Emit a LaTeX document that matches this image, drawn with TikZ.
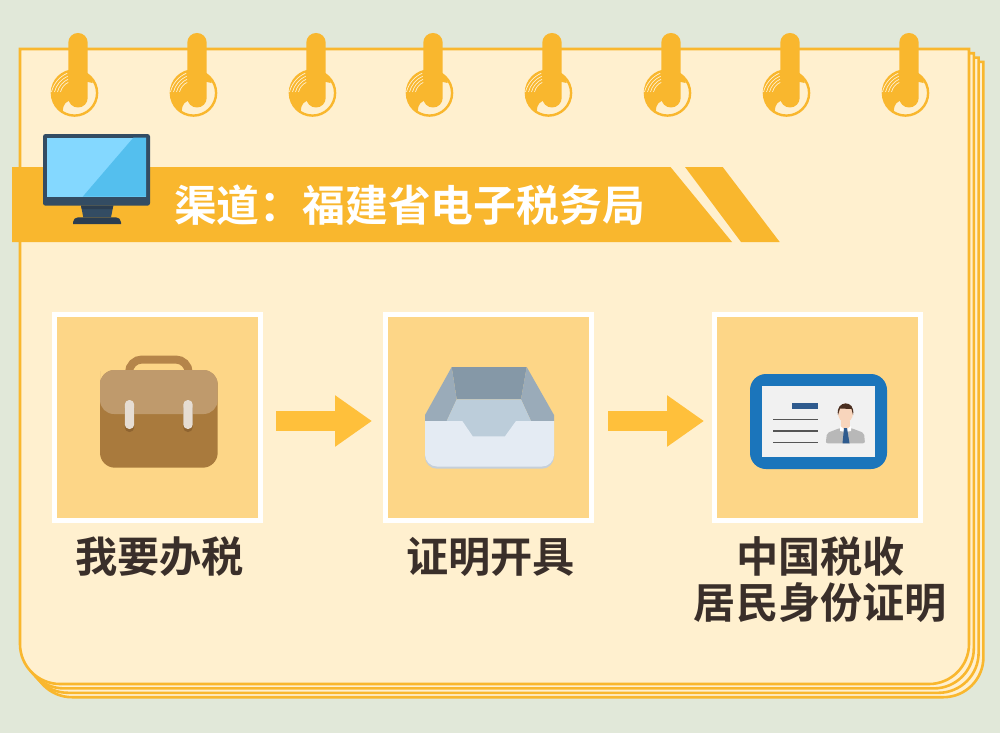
\documentclass[tikz,border=0pt]{standalone}
\usepackage{fontspec}
\newfontfamily\cjk{Noto Sans CJK SC}[BoldFont={Noto Sans CJK SC Bold}]
\usepackage{tikz}
\usetikzlibrary{arrows.meta,positioning}
\definecolor{bgc}{HTML}{E1E8D9}
\definecolor{paper}{HTML}{FFF0CF}
\definecolor{gold}{HTML}{F9B72E}
\definecolor{tilec}{HTML}{FDD687}
\definecolor{arrowc}{HTML}{FFC03B}
\definecolor{ink}{HTML}{3A2F2A}
\definecolor{navy}{HTML}{334C63}
\definecolor{navyd}{HTML}{2B3D50}
\definecolor{screenl}{HTML}{84D8FF}
\definecolor{screend}{HTML}{54BFEE}
\definecolor{bagbody}{HTML}{A97A3D}
\definecolor{bagflap}{HTML}{BF9A6C}
\definecolor{baghandle}{HTML}{B5854A}
\definecolor{bagshade}{HTML}{8F6430}
\definecolor{bagclip}{HTML}{E6DDD3}
\definecolor{trayback}{HTML}{8598A7}
\definecolor{trayside}{HTML}{9AABB9}
\definecolor{trayfloor}{HTML}{BCCDDA}
\definecolor{trayfront}{HTML}{E4EBF3}
\definecolor{trayshade}{HTML}{C5CFD9}
\definecolor{cardblue}{HTML}{1B75BB}
\definecolor{cardbar}{HTML}{2F5B8E}
\definecolor{cardface}{HTML}{F1F1F1}
\definecolor{cardline}{HTML}{555555}
\definecolor{suit}{HTML}{B8B8B8}
\definecolor{skin}{HTML}{F8D5BC}
\definecolor{hair}{HTML}{4A2E20}

\begin{document}
\begin{tikzpicture}[x=1pt,y=-1pt]
\tikzstyle{tile}=[draw=white,fill=tilec,line width=5pt,minimum size=206pt,inner sep=0pt];
\tikzstyle{caption}=[font=\cjk\bfseries\fontsize{42.2}{46}\selectfont,text=ink,align=center,inner sep=0pt];
\tikzstyle{flow}=[line width=20pt,draw=arrowc,-{Triangle[length=37pt,width=49pt]}];
\tikzstyle{sheet}=[draw=gold,fill=paper,line width=2.6pt];
\useasboundingbox (0,0) rectangle (1000,733);
\fill[bgc] (0,0) rectangle (1000,733);
\foreach \k in {3,2,1} {
  \draw[sheet] ({20+4*\k},{49+4.3*\k}) -- ({969+4.8*\k},{49+4.3*\k}) [rounded corners=40pt] -- ({969+4.8*\k},{684+4.4*\k}) -- ({20+4*\k},{684+4.4*\k}) [sharp corners] -- cycle;
}
\draw[sheet] (20,49) -- (969,49) [rounded corners=40pt] -- (969,684) -- (20,684) [sharp corners] -- cycle;
\foreach \x in {78,197,316,433,552,671,790,909} {
  \begin{scope}[shift={(\x-3.5,93)}]
    \draw[gold,fill=paper,line width=2.4pt] (0,0) circle (22.6pt);
    \begin{scope}
      \clip (0,0) circle (23pt);
      \fill[gold] (-11,24) .. controls (-13,16) and (-11,10) .. (-6,8) -- (4,2) -- (4,-11) .. controls (9,-12) and (14,-11) .. (18,-10) -- (18,-30) -- (-30,-30) -- (-30,24) -- cycle;
    \end{scope}
    \foreach \r in {19,16,13,10} {
      \draw[paper,line width=.7pt] ({\r*cos(100)-4},{-\r*sin(100)-1}) .. controls ({\r*cos(125)-4},{-\r*sin(125)-1}) and ({\r*cos(155)-4},{-\r*sin(155)-1}) .. ({\r*cos(180)-4},{-\r*sin(180)-1});
    }
  \end{scope}
  \fill[gold,rounded corners=9.6pt] (\x-9.7,33) rectangle (\x+9.7,107.5);
}
\fill[gold] (12,167) -- (670.5,167) -- (732,242) -- (12,242) -- cycle;
\fill[gold] (685,167) -- (722.7,167) -- (779.7,242) -- (741,242) -- cycle;
\fill[navy,rounded corners=2.5pt] (43,134) rectangle (150,205.7);
\fill[screenl] (47,137.7) rectangle (146,196.7);
\fill[screend] (133.3,137.7) -- (146,137.7) -- (146,196.7) -- (82.7,196.7) -- cycle;
\fill[navy] (81,205.7) -- (113.3,205.7) -- (111,217.3) -- (83.3,217.3) -- cycle;
\fill[navyd] (81,205.7) -- (113.3,205.7) -- (112.5,209) -- (81.8,209) -- cycle;
\fill[navyd] (73,224) [rounded corners=5pt] -- (73,217.3) -- (121,217.3) [sharp corners] -- (121,224) -- cycle;
\node[font=\cjk\bfseries\fontsize{42.8}{46}\selectfont,text=white,inner sep=0pt] (chan) at (409.5,205) {渠道：福建省电子税务局};
\node[tile] (task) at (157.5,417.5) {};
\node[tile] (cert) [right=120pt of task] {};
\node[tile] (idc) [right=118pt of cert] {};
\node[caption] (taskl) at (159.5,557) {我要办税};
\node[caption] (certl) at (490.5,557) {证明开具};
\node[caption] (idcl) at (820.5,580) {中国税收\\居民身份证明};
\draw[flow,shorten <=13pt,shorten >=11pt] ([yshift=-3.5pt]task.east) -- ([yshift=-3.5pt]cert.west);
\draw[flow,shorten <=14pt,shorten >=8pt] ([yshift=-3.5pt]cert.east) -- ([yshift=-3.5pt]idc.west);
\draw[baghandle,line width=8pt,rounded corners=13pt] (129,376) -- (129,359.5) -- (188.7,359.5) -- (188.7,376);
\fill[bagbody,rounded corners=15pt] (100,370) rectangle (217.7,467.7);
\fill[bagflap,rounded corners=14pt] (100,385) -- (100,370) -- (217.7,370) -- (217.7,414) -- (100,414) -- cycle;
\foreach \x in {129.5,188} {
  \fill[bagshade,rounded corners=4.5pt] (\x-4.7,404) rectangle (\x+4.7,432);
  \fill[bagclip,rounded corners=4.5pt] (\x-4.7,400) rectangle (\x+4.7,429);
}
\fill[trayback] (451.7,367) -- (526.7,367) -- (521,399.3) -- (456.7,399.3) -- cycle;
\fill[trayside] (451.7,367) -- (456.7,399.3) -- (446.7,421) -- (425,421) -- (425,415) -- cycle;
\fill[trayside] (526.7,367) -- (521,399.3) -- (531,421) -- (554,421) -- (554,415) -- cycle;
\fill[trayfloor] (456.7,399.3) -- (521,399.3) -- (531,421) -- (531,440) -- (446.7,440) -- (446.7,421) -- cycle;
\fill[trayshade] (425,440) [rounded corners=12pt] -- (425,468.7) -- (554,468.7) [sharp corners] -- (554,440) -- cycle;
\fill[trayfront] (425,421) -- (462.3,421) -- (472.7,436.3) -- (505,436.3) -- (516,421) -- (554,421) [rounded corners=12pt] -- (554,466.5) -- (425,466.5) [sharp corners] -- cycle;
\fill[cardblue,rounded corners=16pt] (750,374) rectangle (887,469);
\fill[cardface] (762.3,386.3) rectangle (874.7,456.7);
\fill[cardbar] (792,403) rectangle (818,408.7);
\foreach \y in {419.7,431,442.7} {
  \draw[cardline,line width=1.5pt] (773.3,\y) -- (818,\y);
}
\fill[suit,rounded corners=2pt] (825.7,443.3) -- (827,433) -- (840,428) -- (851,428) -- (864,433) -- (865,443.3) -- cycle;
\fill[skin] (841,421) rectangle (850,429);
\fill[skin] (845.5,413) ellipse (7.5pt and 9.5pt);
\fill[hair] (838,415) .. controls (835,400) and (856,399) .. (853,415) -- (851.5,409) -- (840,408.5) -- cycle;
\fill[white] (840,426) -- (845.5,430) -- (851,426) -- (851,431) -- (845.5,432) -- (840,431) -- cycle;
\fill[cardbar] (844,428) -- (847,428) -- (849.5,443.3) -- (842.5,443.3) -- cycle;
\end{tikzpicture}
\end{document}
